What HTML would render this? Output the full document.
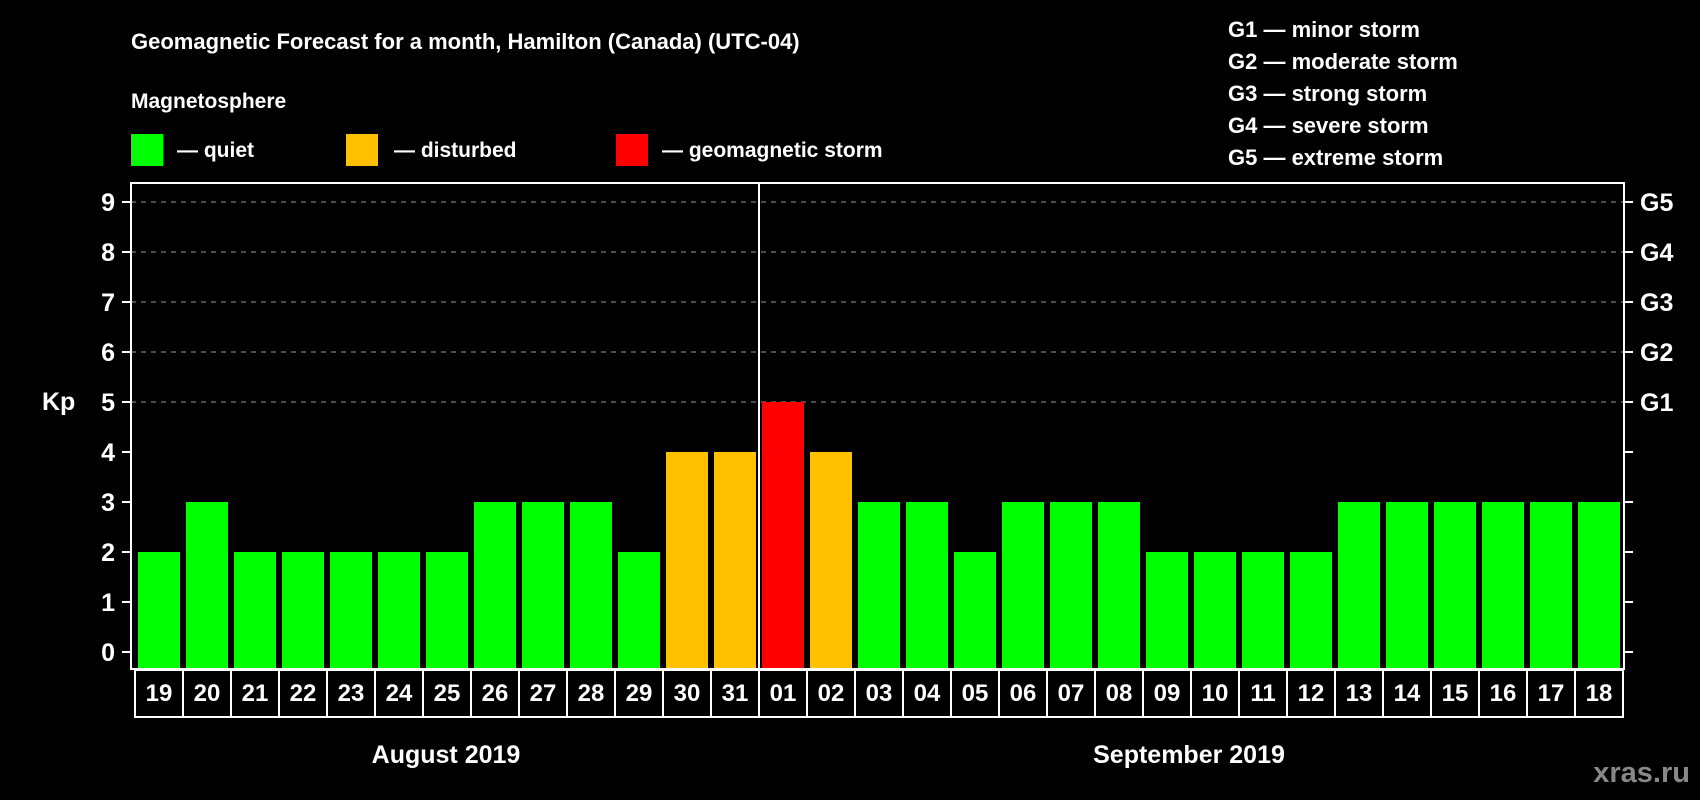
<!DOCTYPE html>
<html><head><meta charset="utf-8"><style>
html,body{margin:0;padding:0;background:#000;}
svg{display:block;font-family:"Liberation Sans",Arial,sans-serif;font-weight:bold;}
</style></head><body>
<svg id="c" width="1700" height="800" viewBox="0 0 1700 800">
<rect width="1700" height="800" fill="#000"/>
<text x="131" y="49" fill="#fff" font-size="22">Geomagnetic Forecast for a month, Hamilton (Canada) (UTC-04)</text>
<text x="131" y="108" fill="#fff" font-size="21">Magnetosphere</text>
<g><rect x="131" y="134" width="32" height="32" fill="#00ff00"/><text x="177" y="157" fill="#fff" font-size="21">— quiet</text></g>
<g><rect x="346" y="134" width="32" height="32" fill="#ffc000"/><text x="394" y="157" fill="#fff" font-size="21">— disturbed</text></g>
<g><rect x="616" y="134" width="32" height="32" fill="#ff0000"/><text x="662" y="157" fill="#fff" font-size="21">— geomagnetic storm</text></g>
<g fill="#fff" font-size="22">
<text x="1228" y="37">G1 — minor storm</text>
<text x="1228" y="69">G2 — moderate storm</text>
<text x="1228" y="101">G3 — strong storm</text>
<text x="1228" y="133">G4 — severe storm</text>
<text x="1228" y="165">G5 — extreme storm</text>
</g>
<text x="42" y="410" fill="#fff" font-size="25">Kp</text>
<text x="446" y="763" fill="#fff" font-size="25" text-anchor="middle">August 2019</text>
<text x="1189" y="763" fill="#fff" font-size="25" text-anchor="middle">September 2019</text>
<text x="1690" y="782" fill="#888" font-size="29" text-anchor="end">xras.ru</text>
<g id="plot"></g>
</svg>
<script>
const days = ["19","20","21","22","23","24","25","26","27","28","29","30","31","01","02","03","04","05","06","07","08","09","10","11","12","13","14","15","16","17","18"];
const kp = [2,3,2,2,2,2,2,3,3,3,2,4,4,5,4,3,3,2,3,3,3,2,2,2,2,3,3,3,3,3,3];
const yTicks = [0,1,2,3,4,5,6,7,8,9];
const gLabels = ["G1","G2","G3","G4","G5"];
const gLevels = [5,6,7,8,9];
const NS="http://www.w3.org/2000/svg";
const g=document.getElementById('plot');
const L=131,R=1624,T=183,B=669,cell0=135,pitch=48;
const y=v=>652-50*v;
const x=i=>cell0+i*pitch;
function mk(t,a){const e=document.createElementNS(NS,t);for(const k in a)e.setAttribute(k,a[k]);g.appendChild(e);return e;}
gLevels.forEach(v=>{
 const l=mk('line',{x1:L,x2:R,y1:y(v),y2:y(v),stroke:'#999','stroke-width':1,'stroke-dasharray':'5,5'});
 
 
});
kp.forEach((v,i)=>{
 const c=v>=5?'#ff0000':(v>=4?'#ffc000':'#00ff00');
 const r=mk('rect',{x:x(i)+3,y:y(v),width:42,height:668-y(v),fill:c});
 
 
});
const d=mk('line',{x1:x(13),x2:x(13),y1:T,y2:B,stroke:'#fff','stroke-width':2});


const f=mk('rect',{x:L,y:T,width:R-L,height:B-T,fill:'none',stroke:'#fff','stroke-width':2});


yTicks.forEach(v=>{
 const t1=mk('line',{x1:122,x2:L,y1:y(v),y2:y(v),stroke:'#fff','stroke-width':2});
 
 
 const t2=mk('line',{x1:R,x2:1633,y1:y(v),y2:y(v),stroke:'#fff','stroke-width':2});
 
 
 const tx=mk('text',{x:115,y:y(v)+9,fill:'#fff','font-size':25,'text-anchor':'end'});
 tx.textContent=v;
 
 
});
gLabels.forEach((s,i)=>{
 const tx=mk('text',{x:1640,y:y(gLevels[i])+9,fill:'#fff','font-size':25});
 tx.textContent=s;
 
 
});
days.forEach((s,i)=>{
 const r=mk('rect',{x:x(i),y:670,width:pitch,height:47,fill:'none',stroke:'#fff','stroke-width':2});
 
 
 const tx=mk('text',{x:x(i)+pitch/2,y:701,fill:'#fff','font-size':24,'text-anchor':'middle'});
 tx.textContent=s;
 
 
});
</script>
</body></html>
